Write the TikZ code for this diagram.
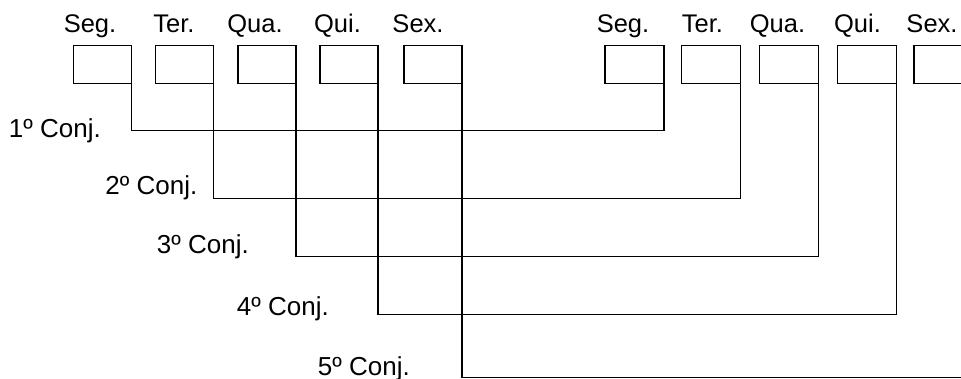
\documentclass[tikz,border=0pt]{standalone}
\usepackage{fontspec}
\setmainfont{Liberation Sans}
\begin{document}
\begin{tikzpicture}[x=1pt,y=-1pt,
  daybox/.style={draw, line width=1.3pt, minimum height=38pt, inner sep=0pt, outer sep=0pt},
  lbox/.style={daybox, minimum width=58pt},
  rbox/.style={daybox, minimum width=59pt},
  daylabel/.style={anchor=base, inner sep=0pt, font=\fontsize{25.5}{28}\selectfont},
  conjlabel/.style={anchor=base east, inner sep=0pt, font=\fontsize{26}{28}\selectfont},
  link/.style={line width=1.3pt}]
\useasboundingbox (0,0) rectangle (961,379);
\clip (0,0) rectangle (961,379);
% boxes
\node[lbox] (L1) at (102.7,64.5) {};
\node[lbox] (L2) at (184.7,64.5) {};
\node[lbox] (L3) at (266.9,64.5) {};
\node[lbox] (L4) at (348.9,64.5) {};
\node[lbox] (L5) at (432.9,64.5) {};
\node[rbox] (R1) at (634.5,64.5) {};
\node[rbox] (R2) at (710.8,64.5) {};
\node[rbox] (R3) at (788.8,64.5) {};
\node[rbox] (R4) at (866.8,64.5) {};
\node[rbox] (R5) at (943.5,64.5) {};
% day labels
\node[daylabel] (tL1) at (90,33) {Seg.};
\node[daylabel] (tL2) at (174,33) {Ter.};
\node[daylabel] (tL3) at (255,33) {Qua.};
\node[daylabel] (tL4) at (337.5,33) {Qui.};
\node[daylabel] (tL5) at (418,33) {Sex.};
\node[daylabel] (tR1) at (623,33) {Seg.};
\node[daylabel] (tR2) at (702.5,33) {Ter.};
\node[daylabel] (tR3) at (777.5,33) {Qua.};
\node[daylabel] (tR4) at (857.5,33) {Qui.};
\node[daylabel] (tR5) at (932,33) {Sex.};
% conj labels
\node[conjlabel] (c1) at (101,138) {1º Conj.};
\node[conjlabel] (c2) at (197.5,194.5) {2º Conj.};
\node[conjlabel] (c3) at (249,254) {3º Conj.};
\node[conjlabel] (c4) at (329,315.5) {4º Conj.};
\node[conjlabel] (c5) at (410,375.5) {5º Conj.};
% levels
\coordinate (y1) at (0,130.7);
\coordinate (y2) at (0,198.3);
\coordinate (y3) at (0,256.7);
\coordinate (y4) at (0,314.3);
\coordinate (y5) at (0,377.8);
% connectors
\draw[link] (L1.south east) -- (L1.south east |- y1) -| (R1.south east);
\draw[link] (L2.south east) -- (L2.south east |- y2) -| (R2.south east);
\draw[link] (L3.south east) -- (L3.south east |- y3) -| (R3.south east);
\draw[link] (L4.south east) -- (L4.south east |- y4) -| (R4.south east);
\draw[link] (L5.south east) -- (L5.south east |- y5) -| (R5.south east);
\end{tikzpicture}
\end{document}
